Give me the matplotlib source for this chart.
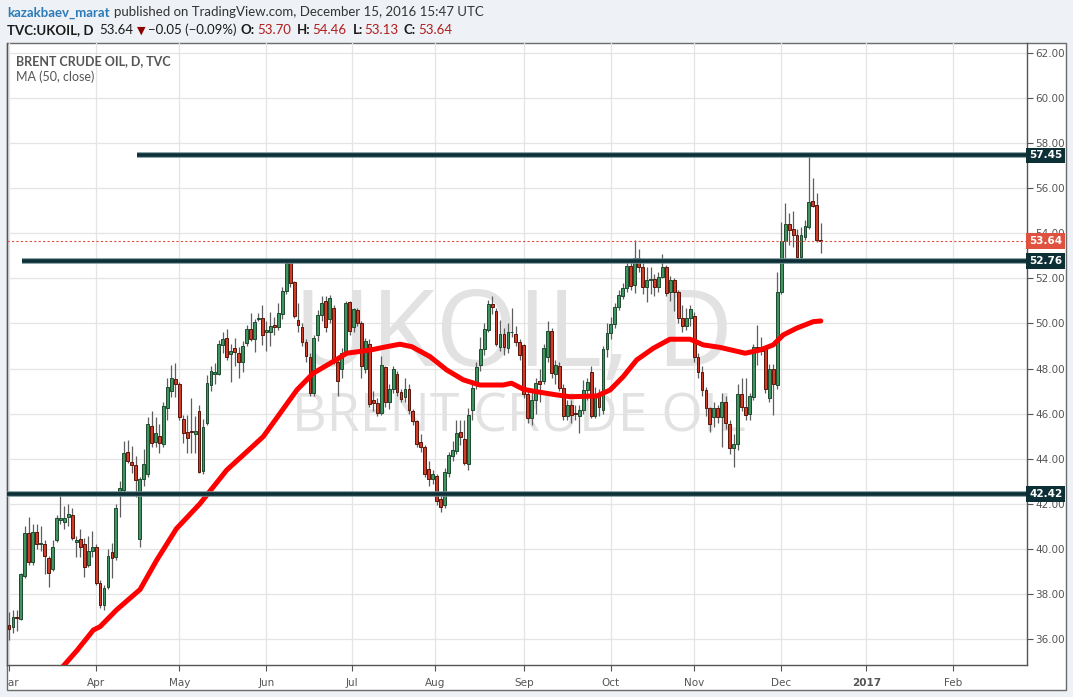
import matplotlib
matplotlib.use('Agg')
import matplotlib.pyplot as plt
from matplotlib.patches import Rectangle
from matplotlib.transforms import Bbox, TransformedBbox
import numpy as np

# daily bars, 1 Mar 2016 .. 15 Dec 2016 (index = trading day)
opens = [
    36.63, 36.55, 37.0, 36.9, 38.8, 40.7, 39.4, 40.75, 40.2, 40.2,
    39.6, 39.1, 40.4, 41.3, 41.2, 41.4, 41.5, 40.3, 40.45, 40.2,
    39.3, 39.9, 40.1, 38.5, 37.5, 38.3, 39.85, 39.65, 42.4, 42.6,
    44.3, 43.85, 43.7, 40.45, 43.1, 43.3, 45.45, 44.75, 45.0, 44.65,
    46.25, 47.0, 47.55, 47.3, 45.75, 45.2, 45.25, 45.1, 46.1, 43.45,
    45.6, 47.25, 47.75, 47.75, 49.05, 49.35, 48.65, 48.9, 48.7, 48.3,
    49.15, 49.75, 49.3, 50.2, 50.25, 49.6, 49.6, 49.92, 49.86, 50.4,
    51.44, 52.79, 51.83, 50.15, 49.83, 49.17, 48.53, 46.9, 49.5, 50.38,
    51.0, 50.19, 50.67, 48.3, 47.97, 48.8, 50.94, 49.86, 50.6, 50.0,
    47.97, 49.09, 46.6, 46.46, 46.04, 48.05, 46.53, 47.08, 47.76, 46.95,
    46.72, 47.08, 46.13, 45.67, 44.73, 44.5, 43.53, 43.09, 43.23, 42.21,
    41.95, 43.35, 44.12, 44.34, 45.17, 44.86, 43.75, 46.16, 47.27, 48.16,
    48.87, 49.71, 50.86, 50.55, 48.97, 49.53, 48.9, 49.61, 49.53, 49.17,
    49.05, 46.87, 45.79, 46.6, 47.45, 47.45, 48.49, 49.67, 47.76, 48.11,
    47.12, 45.91, 46.38, 46.04, 45.91, 46.16, 47.05, 47.83, 45.91, 46.87,
    46.16, 48.85, 49.56, 49.98, 50.74, 51.23, 51.56, 52.55, 51.71, 52.89,
    52.49, 51.63, 51.92, 51.97, 51.63, 52.07, 52.49, 51.39, 51.93, 51.41,
    50.23, 49.9, 50.23, 50.33, 48.5, 47.86, 47.05, 46.24, 45.83, 46.24,
    45.86, 46.5, 45.53, 44.49, 44.64, 46.87, 46.31, 46.0, 46.75, 48.97,
    48.95, 48.9, 46.68, 47.98, 47.27, 51.38, 53.67, 54.41, 54.18, 53.93,
    52.96, 53.85, 54.27, 55.43, 55.26, 53.70,
]
highs = [
    37.2, 37.3, 37.3, 38.95, 41.0, 41.4, 41.1, 41.1, 41.0, 40.4,
    39.7, 40.4, 41.5, 42.5, 41.9, 42.0, 41.8, 40.55, 40.9, 40.5,
    40.55, 40.8, 40.2, 38.6, 38.4, 40.0, 40.25, 42.0, 43.0, 44.8,
    44.85, 44.55, 44.1, 43.2, 44.45, 45.85, 46.1, 45.85, 45.55, 46.5,
    47.6, 48.15, 48.25, 47.4, 45.95, 45.95, 46.7, 45.9, 46.4, 45.75,
    47.7, 48.1, 48.25, 49.25, 49.6, 49.75, 49.1, 49.35, 48.95, 49.2,
    49.95, 50.45, 50.2, 50.45, 50.8, 50.1, 50.5, 50.3, 50.9, 51.6,
    52.85, 52.86, 51.9, 50.9, 50.0, 49.3, 48.7, 49.5, 50.6, 51.2,
    51.2, 51.25, 50.8, 48.5, 48.9, 51.0, 51.0, 50.7, 50.7, 50.1,
    49.35, 49.3, 47.0, 46.7, 48.55, 48.1, 47.3, 48.1, 47.9, 47.1,
    47.6, 47.3, 46.2, 45.7, 45.1, 44.6, 43.9, 43.5, 43.3, 42.4,
    43.6, 44.3, 44.8, 45.7, 45.7, 45.7, 46.25, 47.5, 48.3, 49.4,
    50.0, 51.05, 51.2, 50.7, 50.15, 49.8, 50.0, 50.7, 49.9, 49.3,
    49.1, 47.0, 47.0, 47.6, 48.0, 49.1, 50.1, 49.8, 48.4, 48.3,
    47.3, 46.6, 46.6, 46.4, 46.4, 47.5, 47.6, 48.1, 47.2, 47.1,
    49.0, 50.0, 50.3, 50.9, 51.5, 51.8, 52.8, 52.8, 53.7, 53.3,
    52.7, 52.5, 52.5, 52.2, 52.3, 53.1, 52.6, 52.1, 52.0, 51.5,
    50.8, 50.7, 50.82, 50.5, 48.7, 48.1, 47.2, 46.3, 46.5, 46.4,
    46.9, 46.8, 45.7, 45.1, 47.3, 47.6, 47.6, 46.9, 49.1, 49.93,
    49.4, 49.0, 48.2, 48.2, 52.3, 54.52, 55.33, 54.9, 55.0, 54.2,
    54.3, 54.6, 57.5, 56.44, 55.8, 54.46,
]
lows = [
    35.96, 36.27, 36.35, 36.85, 38.7, 39.3, 39.3, 40.0, 39.9, 38.9,
    38.3, 39.0, 40.3, 41.1, 40.9, 41.0, 40.4, 39.65, 39.65, 38.75,
    39.2, 39.65, 38.4, 37.4, 37.3, 38.2, 38.7, 39.5, 41.4, 42.5,
    43.8, 43.35, 42.3, 40.1, 42.8, 43.2, 44.5, 44.5, 44.25, 44.5,
    45.7, 46.75, 46.75, 45.7, 44.7, 44.25, 44.25, 44.25, 43.35, 43.3,
    45.5, 47.0, 47.3, 47.7, 48.7, 48.4, 47.4, 48.1, 47.6, 47.85,
    49.0, 49.2, 48.75, 50.1, 49.05, 48.8, 49.0, 49.5, 49.7, 50.2,
    51.3, 51.6, 50.25, 49.6, 49.0, 48.3, 46.8, 46.8, 49.2, 50.1,
    49.6, 50.0, 48.2, 46.8, 47.6, 48.6, 49.5, 49.6, 49.9, 47.6,
    47.8, 46.3, 46.1, 45.9, 45.95, 46.3, 46.2, 46.9, 46.8, 46.5,
    46.5, 46.0, 45.5, 44.5, 44.3, 43.2, 42.8, 42.9, 41.95, 41.65,
    41.8, 43.2, 43.9, 44.2, 44.6, 43.7, 43.5, 45.7, 47.1, 47.9,
    48.6, 49.6, 50.4, 49.0, 48.8, 48.6, 48.7, 49.4, 49.0, 48.4,
    46.7, 45.6, 45.5, 46.0, 46.5, 47.3, 48.3, 47.6, 47.3, 47.0,
    45.7, 45.7, 45.6, 45.7, 45.15, 46.0, 46.6, 45.8, 45.8, 45.9,
    46.0, 48.5, 49.3, 49.8, 50.6, 51.1, 51.4, 51.5, 51.34, 52.3,
    51.3, 50.97, 51.3, 51.2, 51.4, 52.0, 51.2, 51.0, 50.55, 50.0,
    49.6, 49.7, 49.9, 48.3, 47.6, 46.8, 45.9, 45.2, 45.4, 45.6,
    44.5, 45.3, 44.2, 43.65, 44.4, 46.1, 45.7, 45.7, 46.6, 48.16,
    48.6, 46.9, 46.5, 45.95, 47.1, 51.3, 52.9, 53.5, 53.4, 52.9,
    52.8, 53.7, 54.2, 55.15, 53.6, 53.13,
]
closes = [
    36.45, 37.0, 36.93, 38.9, 40.7, 39.4, 40.75, 40.2, 40.25, 39.7,
    38.95, 40.1, 41.35, 41.35, 41.35, 41.55, 40.5, 40.4, 40.1, 39.2,
    39.9, 40.1, 38.5, 37.5, 38.25, 39.7, 39.6, 41.8, 42.7, 44.25,
    43.9, 43.7, 43.05, 43.1, 43.75, 45.55, 44.7, 45.15, 44.7, 46.35,
    47.2, 47.6, 47.3, 45.85, 45.15, 44.9, 45.2, 45.25, 43.4, 45.4,
    47.35, 47.9, 47.85, 49.1, 49.3, 48.5, 48.8, 48.75, 48.3, 49.0,
    49.75, 49.3, 50.05, 50.25, 49.5, 49.7, 49.9, 49.83, 50.45, 51.44,
    52.7, 51.78, 50.35, 49.93, 49.19, 48.56, 46.93, 49.35, 50.38, 50.9,
    49.83, 51.12, 48.35, 47.45, 48.68, 50.9, 49.68, 50.62, 50.0, 48.13,
    49.24, 46.41, 46.49, 46.02, 48.16, 46.5, 47.08, 47.98, 46.95, 46.65,
    47.08, 46.15, 45.69, 44.64, 44.53, 43.31, 43.09, 43.32, 42.14, 41.87,
    43.4, 44.17, 44.39, 45.13, 44.95, 43.8, 45.94, 47.12, 48.06, 48.87,
    49.74, 50.86, 50.74, 49.08, 49.53, 48.97, 49.64, 49.64, 49.17, 48.6,
    46.87, 45.79, 46.6, 47.34, 47.3, 48.9, 49.67, 47.82, 48.16, 47.12,
    45.91, 46.38, 45.94, 45.97, 46.16, 47.05, 47.39, 45.91, 46.87, 46.31,
    48.87, 49.56, 49.98, 50.74, 51.26, 51.56, 52.55, 51.66, 52.89, 52.49,
    51.6, 51.93, 51.97, 51.63, 52.07, 52.49, 51.34, 51.93, 51.41, 50.23,
    49.9, 50.23, 50.64, 48.5, 47.86, 47.05, 46.24, 45.53, 46.27, 45.83,
    46.5, 45.57, 44.49, 44.67, 46.87, 46.31, 45.94, 46.78, 48.97, 48.85,
    48.8, 47.08, 47.98, 47.3, 51.38, 53.67, 54.41, 54.15, 53.93, 52.96,
    53.93, 54.32, 55.38, 55.23, 53.70, 53.64,
]

# MA(50, close)
ma_idx = [13.3, 17.2, 21.3, 23.0, 27.2, 33.1, 37.3, 42.3, 48.2, 55.0,
          60.0, 64.2, 68.4, 72.7, 76.8, 81.1, 85.3, 91.2, 95.4, 98.7,
          101.7, 106.3, 110.5, 114.7, 118.9, 124.8, 126.9, 129.9, 133.3, 138.3,
          141.7, 148.4, 151.8, 155.1, 158.5, 162.7, 166.9, 172.0, 175.3, 179.5,
          185.9, 189.6, 193.0, 195.5, 198.9, 203.1, 205.0]
ma_val = [34.72, 35.5, 36.4, 36.55, 37.3, 38.2, 39.5, 40.9, 42.0, 43.5,
          44.3, 44.98, 46.0, 47.05, 47.79, 48.23, 48.68, 48.82, 48.97, 49.08,
          48.97, 48.53, 47.94, 47.5, 47.27, 47.27, 47.35, 47.08, 46.97, 46.83,
          46.75, 46.78, 47.05, 47.64, 48.38, 48.9, 49.3, 49.3, 49.05, 48.94,
          48.68, 48.82, 49.05, 49.49, 49.79, 50.08, 50.11]

# drawn levels: price and first bar
levels = [57.45, 52.76, 42.42]
level_start = [32.3, 3.3, -1.0]
last_price = 53.64

month_idx = [0, 22, 43, 65, 86.5, 107.5, 130, 152, 173, 195, 216.5, 238.5]
month_labels = ['Mar', 'Apr', 'May', 'Jun', 'Jul', 'Aug', 'Sep', 'Oct', 'Nov', 'Dec', '2017', 'Feb']

W, H = 1073, 697
fig = plt.figure(figsize=(W / 100, H / 100), dpi=100)
fig.patch.set_facecolor('#eef1f5')


def fx(px):
    return px / W


def fy(py):
    return 1 - py / H


panel = Rectangle((fx(7), fy(690)), fx(1066) - fx(7), fy(43) - fy(690),
                  transform=fig.transFigure, facecolor='white',
                  edgecolor='#6b6b6b', lw=1, zorder=-5)
fig.patches.append(panel)

ax = fig.add_axes([fx(7), fy(665), fx(1027) - fx(7), fy(43) - fy(665)])
ax.set_facecolor('none')
ax.set_xlim(-0.5, 257.07)
ax.set_ylim(34.85, 62.44)

# watermark
ax.text(0.497, 0.48, 'UKOIL, D', transform=ax.transAxes, ha='center', va='baseline',
        fontsize=76, family='Open Sans', color='#e2e2e2', zorder=0.6)
ax.text(0.502, 0.376, 'BRENT CRUDE OIL', transform=ax.transAxes, ha='center', va='baseline',
        fontsize=38.5, family='Open Sans', color='#e2e2e2', zorder=0.6)

# candles
x = np.arange(len(closes))
o = np.array(opens)
c = np.array(closes)
up = c >= o
ax.vlines(x, lows, highs, color='#5e5e5e', lw=0.9, zorder=2)
body_lo = np.minimum(o, c)
body_h = np.maximum(np.abs(c - o), 0.03)
ax.bar(x[up], body_h[up], bottom=body_lo[up], width=0.72,
       color='#3f9460', edgecolor='#1d4a2e', lw=0.7, zorder=3)
ax.bar(x[~up], body_h[~up], bottom=body_lo[~up], width=0.72,
       color='#cf3c28', edgecolor='#5a1409', lw=0.7, zorder=3)

# moving average
ax.plot(ma_idx, ma_val, color='#ff0000', lw=3.6, solid_capstyle='round',
        solid_joinstyle='round', zorder=4)

# levels
for lv, st in zip(levels, level_start):
    ax.plot([st, 258], [lv, lv], color='#6f8e93', lw=4.0, solid_capstyle='butt', zorder=5)
    ax.plot([st, 258], [lv, lv], color='#0d2f36', lw=2.6, solid_capstyle='butt', zorder=5.1)
    ax.text(1.002, lv, f'{lv:.2f}', transform=ax.get_yaxis_transform(), ha='left', va='center',
            fontsize=7.5, fontweight='bold', color='white', family='DejaVu Sans',
            bbox=dict(boxstyle='square,pad=0.28', facecolor='#0d2f36', edgecolor='none'),
            zorder=10, clip_on=False)
ax.axhline(last_price, color='#e0513f', lw=0.8, ls=(0, (2, 2)), zorder=4.5)
ax.text(1.002, last_price, f'{last_price:.2f}', transform=ax.get_yaxis_transform(), ha='left',
        va='center', fontsize=7.5, fontweight='bold', color='white', family='DejaVu Sans',
        bbox=dict(boxstyle='square,pad=0.28', facecolor='#e0513f', edgecolor='none'),
        zorder=10, clip_on=False)

# axes styling
ax.set_xticks(month_idx)
ax.set_xticklabels([])
ax.set_yticks(np.arange(36, 63, 2))
ax.set_yticklabels([f'{v:.2f}' for v in np.arange(36, 63, 2)])
ax.yaxis.tick_right()
ax.tick_params(axis='y', length=4, width=0.8, color='#555555', labelcolor='#555555',
               labelsize=7.5, pad=2)
ax.tick_params(axis='x', length=4, width=0.8, color='#555555', direction='out')
for lab in ax.get_yticklabels():
    lab.set_family('DejaVu Sans')
ax.grid(True, color='#e4e4e4', lw=0.9)
ax.set_axisbelow(True)
for side in ['left', 'bottom', 'right']:
    ax.spines[side].set_color('#555555')
    ax.spines[side].set_linewidth(1)
ax.spines['top'].set_visible(False)

clip = TransformedBbox(Bbox.from_extents(fx(7), fy(690), fx(1066), fy(43)), fig.transFigure)
for mi, ml in zip(month_idx, month_labels):
    t = ax.text(mi, -0.029, ml, transform=ax.get_xaxis_transform(), ha='center', va='center',
                fontsize=7.5, color='#555555', family='DejaVu Sans',
                fontweight='bold' if ml == '2017' else 'normal')
    t.set_clip_box(clip)
    t.set_clip_on(True)

# legend inside chart
fig.text(fx(16), fy(65), 'BRENT CRUDE OIL, D, TVC', fontsize=9, fontweight='bold',
         color='#555555', family='Lato', va='baseline')
fig.text(fx(16), fy(81), 'MA (50, close)', fontsize=9, color='#555555', family='Lato',
         va='baseline')

# header, placed piece by piece with the gaps seen in the reference
renderer = fig.canvas.get_renderer()
BLK = '#1a1a1a'
RED = '#b01c1c'
rows = [
    (16.5, [('kazakbaev_marat', dict(color='#2b7bb9', fontweight='bold'), 0),
            ('published on TradingView.com, December 15, 2016 15:47 UTC', dict(color='#333333'), 4)]),
    (34, [('TVC:UKOIL, D', dict(color=BLK, fontweight='bold'), 0),
          ('53.64', dict(color=BLK), 6),
          ('\u25bc', dict(color='#8b0000', family='DejaVu Sans', fontsize=8), 3),
          ('\u22120.05 (\u22120.09%)', dict(color=BLK), 3),
          ('O:', dict(color=BLK, fontweight='bold'), 4),
          ('53.70', dict(color=RED), 2),
          ('H:', dict(color=BLK, fontweight='bold'), 6),
          ('54.46', dict(color=RED), 2),
          ('L:', dict(color=BLK, fontweight='bold'), 6),
          ('53.13', dict(color=RED), 2),
          ('C:', dict(color=BLK, fontweight='bold'), 5),
          ('53.64', dict(color=RED), 2)]),
]
for py, pieces in rows:
    xp = 7
    for s, kw, gap in pieces:
        xp += gap
        kw = dict(kw)
        kw.setdefault('family', 'Lato')
        kw.setdefault('fontsize', 9.5)
        t = fig.text(fx(xp), fy(py), s, va='baseline', ha='left', **kw)
        xp += t.get_window_extent(renderer).width

fig.savefig('out.png', dpi=100, facecolor=fig.get_facecolor())
